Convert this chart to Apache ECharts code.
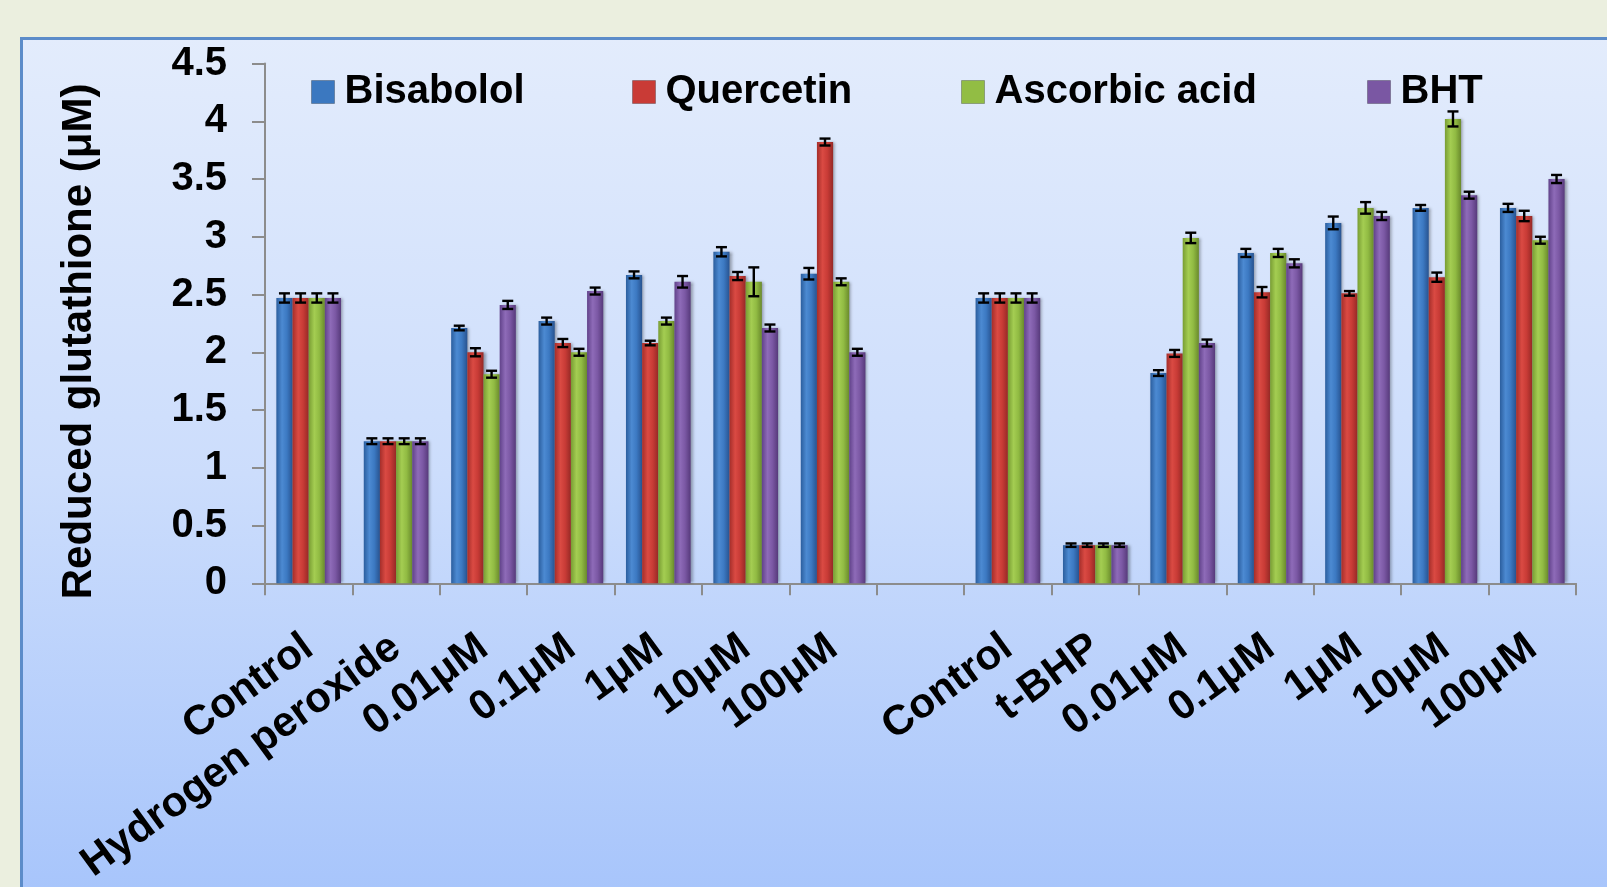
<!DOCTYPE html>
<html>
<head>
<meta charset="utf-8">
<script src="https://cdn.jsdelivr.net/npm/echarts@6/dist/echarts.min.js"></script>
<style>
html,body{margin:0;padding:0;background:#EBEFDF;}
#chart{width:1607px;height:887px;}
</style>
</head>
<body>
<div id="chart"></div>
<script>
const categories = ['Control','Hydrogen peroxide','0.01μM','0.1μM','1μM','10μM','100μM','','Control','t-BHP','0.01μM','0.1μM','1μM','10μM','100μM'];
const seriesNames = ['Bisabolol','Quercetin','Ascorbic acid','BHT'];
const bisabolol = [2.47, 1.23, 2.21, 2.27, 2.67, 2.87, 2.68, null, 2.47, 0.33, 1.82, 2.86, 3.12, 3.25, 3.25];
const quercetin = [2.47, 1.23, 2.00, 2.08, 2.08, 2.66, 3.82, null, 2.47, 0.33, 1.99, 2.52, 2.51, 2.65, 3.18];
const ascorbic  = [2.47, 1.23, 1.81, 2.00, 2.27, 2.61, 2.61, null, 2.47, 0.33, 2.99, 2.86, 3.25, 4.02, 2.97];
const bht       = [2.47, 1.23, 2.41, 2.53, 2.61, 2.21, 2.00, null, 2.47, 0.33, 2.08, 2.77, 3.18, 3.36, 3.50];
const bisabololErr = [0.04, 0.025, 0.02, 0.03, 0.03, 0.04, 0.05, null, 0.04, 0.015, 0.025, 0.035, 0.055, 0.025, 0.035];
const quercetinErr = [0.04, 0.025, 0.035, 0.035, 0.02, 0.035, 0.03, null, 0.04, 0.015, 0.03, 0.045, 0.02, 0.04, 0.045];
const ascorbicErr  = [0.04, 0.025, 0.03, 0.03, 0.03, 0.125, 0.03, null, 0.04, 0.015, 0.045, 0.035, 0.05, 0.065, 0.03];
const bhtErr       = [0.04, 0.025, 0.035, 0.03, 0.05, 0.03, 0.03, null, 0.04, 0.015, 0.03, 0.035, 0.035, 0.03, 0.035];
const yTicks = {min: 0, max: 4.5, interval: 0.5};

const values = [bisabolol, quercetin, ascorbic, bht];
const errors = [bisabololErr, quercetinErr, ascorbicErr, bhtErr];

function grad(c0, c1, c2, c3) {
  return new echarts.graphic.LinearGradient(0, 0, 1, 0, [
    {offset: 0, color: c0}, {offset: 0.35, color: c1}, {offset: 0.65, color: c2}, {offset: 1, color: c3}
  ]);
}
const palettes = [
  ['#2B5E9E', '#4C8AD2', '#3C79C2', '#285390'],
  ['#A52E2A', '#DA4A43', '#C83B36', '#962926'],
  ['#789D33', '#A4CD52', '#91BB43', '#6A8A2C'],
  ['#61428A', '#8E6BB8', '#7B58A4', '#573A7B']
];
const flatColors = ['#3B78C0', '#C93B36', '#92BD44', '#7A57A3'];
const FONT = '"Liberation Sans", Arial, Helvetica, sans-serif';
const catGap = 0.26;

const chart = echarts.init(document.getElementById('chart'), null, {renderer: 'canvas'});

const barSeries = seriesNames.map((name, i) => ({
  name: name,
  type: 'bar',
  data: values[i],
  barGap: '0%',
  barCategoryGap: (catGap * 100) + '%',
  itemStyle: {
    color: grad(...palettes[i]),
    shadowColor: 'rgba(0,0,0,0.35)',
    shadowBlur: 3,
    shadowOffsetX: 2,
    shadowOffsetY: 0
  },
  z: 2
}));

const errSeries = seriesNames.map((name, i) => ({
  name: name,
  type: 'custom',
  z: 5,
  clip: false,
  data: values[i].map((v, k) => v == null ? [k, null, null] : [k, v, errors[i][k]]),
  renderItem: function (params, api) {
    const v = api.value(1);
    if (v == null || isNaN(v)) return;
    const xi = api.value(0), e = api.value(2);
    const band = api.size([1, 0])[0];
    const bw = band * (1 - catGap) / 4;
    const cx = api.coord([xi, v])[0] + (i - 1.5) * bw;
    const yt = api.coord([xi, v + e])[1];
    const yb = api.coord([xi, v - e])[1];
    const hw = 5.5;
    const st = {stroke: '#000', lineWidth: 2.4};
    return {
      type: 'group',
      children: [
        {type: 'line', shape: {x1: cx, y1: yt, x2: cx, y2: yb}, style: st},
        {type: 'line', shape: {x1: cx - hw, y1: yt, x2: cx + hw, y2: yt}, style: st},
        {type: 'line', shape: {x1: cx - hw, y1: yb, x2: cx + hw, y2: yb}, style: st}
      ]
    };
  },
  tooltip: {show: false}
}));

const legendLefts = [306, 627, 956, 1362];
const legends = seriesNames.map((name, i) => ({
  data: [name],
  left: legendLefts[i],
  top: 67,
  itemWidth: 23,
  itemHeight: 23,
  icon: 'rect',
  itemStyle: {color: flatColors[i], borderColor: 'rgba(0,0,0,0.25)', borderWidth: 1},
  textStyle: {fontFamily: FONT, fontWeight: 'bold', fontSize: 40, color: '#000', padding: [0, 0, 0, 5]},
  selectedMode: false
}));

chart.setOption({
  backgroundColor: '#EBEFDF',
  animation: false,
  graphic: {
    elements: [{
      type: 'rect',
      z: -10,
      shape: {x: 21.5, y: 38.5, width: 1620, height: 870},
      style: {
        fill: new echarts.graphic.LinearGradient(0, 0, 0, 1, [
          {offset: 0, color: '#E3ECFC'},
          {offset: 0.5, color: '#CCDDFC'},
          {offset: 1, color: '#A6C4FB'}
        ]),
        stroke: '#5C8CC9',
        lineWidth: 3
      }
    }]
  },
  legend: legends,
  grid: {left: 265, right: 31, top: 63.5, bottom: 303, containLabel: false},
  xAxis: {
    type: 'category',
    data: categories,
    boundaryGap: true,
    axisLine: {lineStyle: {color: '#8C8C8C', width: 2}},
    axisTick: {show: true, length: 12, lineStyle: {color: '#8C8C8C', width: 2}, interval: 0},
    axisLabel: {
      interval: 0, rotate: 36, margin: 60,
      fontFamily: FONT, fontWeight: 'bold', fontSize: 42, color: '#000'
    },
    splitLine: {show: false}
  },
  yAxis: {
    type: 'value',
    min: yTicks.min, max: yTicks.max, interval: yTicks.interval,
    name: 'Reduced glutathione (μM)',
    nameLocation: 'middle',
    nameRotate: 90,
    nameGap: 165,
    nameTextStyle: {fontFamily: FONT, fontWeight: 'bold', fontSize: 42, color: '#000', padding: [0, 36, 0, 0]},
    axisLine: {show: true, lineStyle: {color: '#8C8C8C', width: 2}},
    axisTick: {show: true, length: 13, lineStyle: {color: '#8C8C8C', width: 2}},
    axisLabel: {margin: 38, fontFamily: FONT, fontWeight: 'bold', fontSize: 40, color: '#000'},
    splitLine: {show: false}
  },
  series: barSeries.concat(errSeries)
});
</script>
</body>
</html>
